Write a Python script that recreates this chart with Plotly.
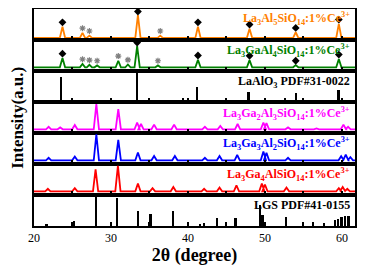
import plotly.graph_objects as go
from plotly.subplots import make_subplots

# ---------------- data ----------------
x_range = [20, 61.7]

orange_pos = [23.7, 26.3, 27.2, 33.5, 36.4, 41.3, 48.0, 54.0, 59.6]
orange_int = [0.43, 0.23, 0.14, 0.80, 0.14, 0.43, 0.36, 0.25, 0.52]
orange_base = 0.07
orange_diamonds = [23.7, 33.5, 41.3, 48.0, 54.0, 59.6]
orange_stars = [26.3, 27.2, 36.4]

green_pos = [23.7, 26.3, 27.2, 28.2, 30.95, 32.2, 33.4, 36.1, 41.3, 48.0, 54.0, 59.6]
green_int = [0.42, 0.23, 0.20, 0.18, 0.33, 0.21, 0.80, 0.18, 0.36, 0.35, 0.19, 0.39]
green_base = 0.12
green_diamonds = [23.7, 33.4, 41.3, 48.0, 54.0, 59.6]
green_stars = [26.3, 27.2, 28.2, 30.95, 32.2, 36.1]

laalo3_pos = [23.5, 33.4, 39.4, 41.2, 47.9, 52.6, 54.1, 59.6]
laalo3_int = [0.80, 0.94, 0.13, 0.47, 0.31, 0.12, 0.30, 0.38]

magenta_pos = [21.9, 23.4, 25.3, 28.1, 30.95, 33.4, 33.9, 35.6, 38.2, 42.2, 44.2, 46.45,
               49.8, 50.2, 53.0, 56.7, 60.2, 60.8]
magenta_int = [0.20, 0.18, 0.26, 0.93, 0.77, 0.34, 0.29, 0.27, 0.27, 0.20, 0.23, 0.29,
               0.34, 0.32, 0.18, 0.15, 0.27, 0.20]
magenta_base = 0.12

blue_pos = [21.9, 25.3, 28.1, 30.95, 33.5, 35.6, 38.3, 42.2, 44.1, 46.4, 49.8, 50.2,
            53.0, 59.9, 60.5, 61.1]
blue_int = [0.20, 0.24, 0.96, 0.78, 0.37, 0.26, 0.26, 0.20, 0.26, 0.29, 0.40, 0.36,
            0.20, 0.25, 0.30, 0.22]
blue_base = 0.12

red_pos = [21.8, 25.3, 28.0, 30.9, 33.5, 35.4, 38.1, 42.1, 44.1, 46.3, 49.6, 50.0,
           52.8, 59.6, 60.1, 60.7]
red_int = [0.20, 0.22, 0.83, 0.94, 0.37, 0.22, 0.26, 0.20, 0.24, 0.31, 0.37, 0.34,
           0.24, 0.22, 0.26, 0.20]
red_base = 0.12

lgs_pos = [21.65, 25.2, 28.05, 30.8, 33.5, 35.15, 38.1, 41.6, 42.1, 43.8, 46.2, 49.4, 49.7,
           52.8, 56.3, 57.7, 59.1, 59.5, 60.0, 60.4, 60.9]
lgs_int = [0.08, 0.15, 0.94, 0.90, 0.47, 0.40, 0.50, 0.07, 0.10, 0.26, 0.26, 0.69, 0.37,
           0.29, 0.12, 0.09, 0.20, 0.22, 0.29, 0.31, 0.33]

labels = [
    "La<sub>3</sub>Al<sub>5</sub>SiO<sub>14</sub>:1%Ce<sup>3+</sup>",
    "La<sub>3</sub>GaAl<sub>4</sub>SiO<sub>14</sub>:1%Ce<sup>3+</sup>",
    "LaAlO<sub>3</sub> PDF#31-0022",
    "La<sub>3</sub>Ga<sub>2</sub>Al<sub>3</sub>SiO<sub>14</sub>:1%Ce<sup>3+</sup>",
    "La<sub>3</sub>Ga<sub>3</sub>Al<sub>2</sub>SiO<sub>14</sub>:1%Ce<sup>3+</sup>",
    "La<sub>3</sub>Ga<sub>4</sub>AlSiO<sub>14</sub>:1%Ce<sup>3+</sup>",
    "LGS PDF#41-0155",
]

# ---------------- styles ----------------
ORANGE = "#FF8000"
GREEN = "#008000"
MAGENTA = "#FF00FF"
BLUE = "#0000FF"
RED = "#FF0000"
STAR = "#808080"
FONT = "Liberation Serif"
HW = 0.34  # peak half-width at base (deg)


def pattern(pos, inten, base):
    xs, ys = [x_range[0]], [base]
    for p, h in zip(pos, inten):
        xs += [p - HW, p, p + HW]
        ys += [base, h, base]
    xs.append(x_range[1])
    ys.append(base)
    return xs, ys


fig = make_subplots(rows=7, cols=1, shared_xaxes=True, vertical_spacing=0)

patterns = {
    1: (orange_pos, orange_int, orange_base, ORANGE),
    2: (green_pos, green_int, green_base, GREEN),
    4: (magenta_pos, magenta_int, magenta_base, MAGENTA),
    5: (blue_pos, blue_int, blue_base, BLUE),
    6: (red_pos, red_int, red_base, RED),
}
for row, (pos, inten, base, col) in patterns.items():
    xs, ys = pattern(pos, inten, base)
    fig.add_trace(go.Scatter(x=xs, y=ys, mode="lines", line=dict(color=col, width=1.8),
                             showlegend=False, hoverinfo="skip"), row=row, col=1)

# phase markers
for row, pos, inten, dia, stars in [(1, orange_pos, orange_int, orange_diamonds, orange_stars),
                                    (2, green_pos, green_int, green_diamonds, green_stars)]:
    lookup = dict(zip(pos, inten))
    fig.add_trace(go.Scatter(x=dia, y=[min(lookup[d] + 0.14, 0.92) for d in dia], mode="markers",
                             marker=dict(symbol="diamond", size=6, color="black"),
                             showlegend=False, hoverinfo="skip"), row=row, col=1)
    fig.add_trace(go.Scatter(x=stars, y=[lookup[s] + 0.15 for s in stars], mode="markers",
                             marker=dict(symbol="asterisk-open", size=5, color=STAR,
                                         line=dict(color=STAR, width=1.2)),
                             showlegend=False, hoverinfo="skip"), row=row, col=1)

# stick patterns
for row, pos, inten in [(3, laalo3_pos, laalo3_int), (7, lgs_pos, lgs_int)]:
    fig.add_trace(go.Bar(x=pos, y=inten, width=0.24, marker=dict(color="black", line=dict(width=0)),
                         showlegend=False, hoverinfo="skip"), row=row, col=1)

label_colors = [ORANGE, GREEN, "black", MAGENTA, BLUE, RED, "black"]
label_y = [0.68, 0.66, 0.64, 0.64, 0.65, 0.65, 0.68]
for i in range(7):
    r = i + 1
    fig.add_annotation(text="<b>" + labels[i] + "</b>", x=0.99, y=label_y[i],
                       xref=f"x{'' if r == 1 else r} domain", yref=f"y{'' if r == 1 else r} domain",
                       xanchor="right", yanchor="middle", showarrow=False,
                       font=dict(family=FONT, size=12, color=label_colors[i]))

for r in range(1, 8):
    fig.update_yaxes(range=[0, 1], showticklabels=False, ticks="", showgrid=False, zeroline=False,
                     automargin=False,
                     showline=True, mirror=True, linecolor="black", linewidth=2, row=r, col=1)
    fig.update_xaxes(range=x_range, showgrid=False, zeroline=False, showline=True, mirror=True,
                     automargin=False,
                     linecolor="black", linewidth=2, ticks="inside", ticklen=4, tickwidth=1.5,
                     tickcolor="black", dtick=10, tick0=20,
                     minor=dict(dtick=5, ticks="inside", ticklen=4, tickwidth=1.5, tickcolor="black"),
                     row=r, col=1)

fig.update_xaxes(tickfont=dict(family=FONT, size=12, color="black"), row=7, col=1)
fig.update_xaxes(title=dict(text="<b>2θ (degree)</b>", standoff=0,
                            font=dict(family=FONT, size=18, color="black")), row=7, col=1)

fig.add_annotation(text="<b>Intensity(a.u.)</b>", xref="paper", yref="paper", x=-0.052, y=0.5,
                   textangle=-90, showarrow=False, xanchor="center", yanchor="middle",
                   font=dict(family=FONT, size=17, color="black"))

# page body adds an 8px offset, so the figure is sized and placed to compensate
fig.update_layout(width=369, height=265, margin=dict(l=26, r=22, t=1, b=47),
                  paper_bgcolor="white", plot_bgcolor="white", bargap=0, showlegend=False)

fig.write_html("out.html")
